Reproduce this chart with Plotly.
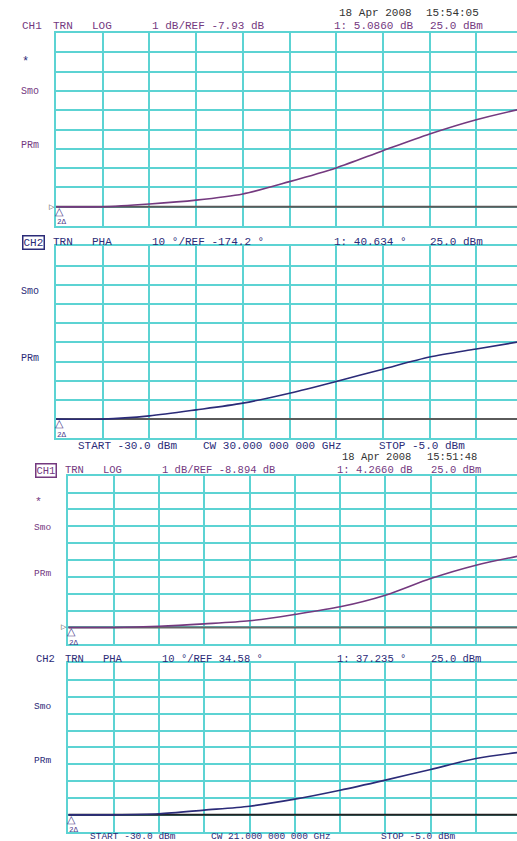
import plotly.graph_objects as go

# ---------------- data ----------------
power_dbm = [-30, -27.5, -25, -22.5, -20, -17.5, -15, -12.5, -10, -7.5, -5]

gain_30ghz_db = [-7.93, -7.93, -7.79, -7.59, -7.27, -6.63, -5.92, -5.03, -4.16, -3.42, -2.84]
phase_30ghz_deg = [-174.2, -174.2, -172.5, -169.4, -165.9, -160.7, -154.6, -148.2, -141.9, -137.7, -133.6]
gain_21ghz_db = [-8.894, -8.894, -8.82, -8.68, -8.50, -8.12, -7.67, -6.98, -5.99, -5.20, -4.63]
phase_21ghz_deg = [34.58, 34.58, 35.2, 37.4, 39.7, 43.9, 49.2, 55.2, 61.5, 68.0, 71.8]

ref_values = [-7.93, -174.2, -8.894, 34.58]
scale_per_div = [1, 10, 1, 10]
header_scale = ["1 dB/REF -7.93 dB", "10 °/REF -174.2 °", "1 dB/REF -8.894 dB", "10 °/REF 34.58 °"]
header_marker = ["1: 5.0860 dB", "1: 40.634 °", "1: 4.2660 dB", "1: 37.235 °"]
header_format = ["LOG", "PHA", "LOG", "PHA"]
channel_names = ["CH1", "CH2", "CH1", "CH2"]
dates = ["18 Apr 2008", "18 Apr 2008"]
times = ["15:54:05", "15:51:48"]
cw_labels = ["CW 30.000 000 000 GHz", "CW 21.000 000 000 GHz"]
start_label = "START -30.0 dBm"
stop_label = "STOP -5.0 dBm"
power_label = "25.0 dBm"

series = [gain_30ghz_db, phase_30ghz_deg, gain_21ghz_db, phase_21ghz_deg]

# ---------------- layout / style ----------------
W, H = 517, 841
CYAN = "#5cd3d3"
PURPLE = "#74397f"
NAVY = "#2b2b78"
DARK = "#333333"
FONT = "Liberation Mono"

# per panel: left px, px per x-division, top px, bottom px, trace colour, ref colour, text colour
geo = [
    dict(left=56.0, pxdiv=46.7, top=33.0, bot=226.0, tc=PURPLE, rc="#5a5a5a", txt=PURPLE, fs=11),
    dict(left=56.0, pxdiv=46.7, top=246.3, bot=438.3, tc=NAVY, rc="#5a5a5a", txt=NAVY, fs=11),
    dict(left=68.3, pxdiv=45.3, top=475.7, bot=644.3, tc=PURPLE, rc="#666666", txt=PURPLE, fs=10.5),
    dict(left=68.3, pxdiv=45.3, top=663.2, bot=831.7, tc=NAVY, rc="#222222", txt=NAVY, fs=10.5),
]

fig = go.Figure()
layout = dict(width=W, height=H, margin=dict(l=0, r=0, t=0, b=0),
              paper_bgcolor="white", plot_bgcolor="white", showlegend=False)

x_step = power_dbm[1] - power_dbm[0]
for i, g in enumerate(geo):
    xn = "xaxis" if i == 0 else f"xaxis{i+1}"
    yn = "yaxis" if i == 0 else f"yaxis{i+1}"
    xa = "x" if i == 0 else f"x{i+1}"
    ya = "y" if i == 0 else f"y{i+1}"
    ref = ref_values[i]
    sd = scale_per_div[i]
    x_end = power_dbm[0] + (W - g["left"]) / g["pxdiv"] * x_step
    layout[xn] = dict(domain=[g["left"] / W, 1], range=[power_dbm[0], x_end],
                      tick0=power_dbm[0], dtick=x_step, showgrid=True, gridcolor=CYAN,
                      gridwidth=2, showline=True, mirror=True, linecolor=CYAN, linewidth=2,
                      zeroline=False, showticklabels=False, ticks="", anchor=ya, fixedrange=True)
    layout[yn] = dict(domain=[1 - g["bot"] / H, 1 - g["top"] / H],
                      range=[ref - 1 * sd, ref + 9 * sd], tick0=ref, dtick=sd,
                      showgrid=True, gridcolor=CYAN, gridwidth=2, showline=True, mirror=False,
                      linecolor=CYAN, linewidth=2, zeroline=False, showticklabels=False,
                      ticks="", anchor=xa, fixedrange=True)
    # memory / reference trace
    fig.add_trace(go.Scatter(x=power_dbm, y=[ref] * len(power_dbm), mode="lines",
                             line=dict(color=g["rc"], width=2), xaxis=xa, yaxis=ya,
                             hoverinfo="skip"))
    # measured trace
    fig.add_trace(go.Scatter(x=power_dbm, y=series[i], mode="lines",
                             line=dict(color=g["tc"], width=1.6, shape="spline", smoothing=0.8),
                             xaxis=xa, yaxis=ya))

annotations = []


def lab(text, px, py, color, size, xanchor="left", box=False):
    a = dict(text=text, x=px / W, y=1 - py / H, xref="paper", yref="paper",
             xanchor=xanchor, yanchor="middle", showarrow=False,
             font=dict(family=FONT, size=size, color=color), borderpad=0, borderwidth=0)
    if box:
        a.update(bordercolor=color, borderwidth=1.5, borderpad=0)
    annotations.append(a)


# header rows for each panel
hdr_x = [
    dict(ch=22, trn=53, fmt=92, sc=152, mk=334, pw=430, rowy=26, active=False),
    dict(ch=22, trn=53, fmt=92, sc=152, mk=334, pw=430, rowy=242, active=True),
    dict(ch=35, trn=65, fmt=103, sc=162, mk=337, pw=431, rowy=470, active=True),
    dict(ch=36, trn=65, fmt=103, sc=162, mk=337, pw=431, rowy=659, active=False),
]
for i, h in enumerate(hdr_x):
    g = geo[i]
    c = g["txt"]
    fs = g["fs"]
    lab(channel_names[i], h["ch"], h["rowy"], c, fs, box=h["active"])
    lab("TRN", h["trn"], h["rowy"], c, fs)
    lab(header_format[i], h["fmt"], h["rowy"], c, fs)
    lab(header_scale[i], h["sc"], h["rowy"], c, fs)
    lab(header_marker[i], h["mk"], h["rowy"], c, fs)
    lab(power_label, h["pw"], h["rowy"], c, fs)

# dates
lab(dates[0], 339, 13, DARK, 11)
lab(times[0], 426, 13, DARK, 11)
lab(dates[1], 342, 457, DARK, 10.5)
lab(times[1], 427, 457, DARK, 10.5)

# side annotations
side = [
    dict(x=21, star=62, smo=92, prm=145),
    dict(x=21, star=None, smo=291, prm=358),
    dict(x=34, star=501, smo=527, prm=573),
    dict(x=34, star=None, smo=706, prm=760),
]
for i, s in enumerate(side):
    g = geo[i]
    if s["star"] is not None:
        lab("*", s["x"] + 1, s["star"], NAVY if i == 0 else PURPLE, g["fs"] + 1)
    lab("Smo", s["x"], s["smo"], g["txt"], g["fs"] - 1)
    lab("PRm", s["x"], s["prm"], g["txt"], g["fs"] - 1)

# reference position arrows and marker-2 triangles
for i, g in enumerate(geo):
    ref_py = g["bot"] - (g["bot"] - g["top"]) / 10.0
    if i in (0, 2):
        lab("▷", g["left"] - 1, ref_py, DARK, 7, xanchor="right")
    lab("△", g["left"] + 3, ref_py + 5, "#4a3a8a", 11, xanchor="center")
    lab("2Δ", g["left"] + 6, ref_py + 15.5, "#4a3a8a", 7.5, xanchor="center")

# stimulus rows
lab(start_label, 78, 446, NAVY, 11)
lab(cw_labels[0], 203, 446, NAVY, 11)
lab(stop_label, 379, 446, NAVY, 11)
lab(start_label, 90, 836.2, NAVY, 9.5)
lab(cw_labels[1], 211, 836.2, NAVY, 9.5)
lab(stop_label, 381, 836.2, NAVY, 9.5)

layout["annotations"] = annotations
fig.update_layout(**layout)

fig.write_html("out.html", config={"displayModeBar": False},
               post_script="document.body.style.margin='0';document.body.style.overflow='hidden';")
